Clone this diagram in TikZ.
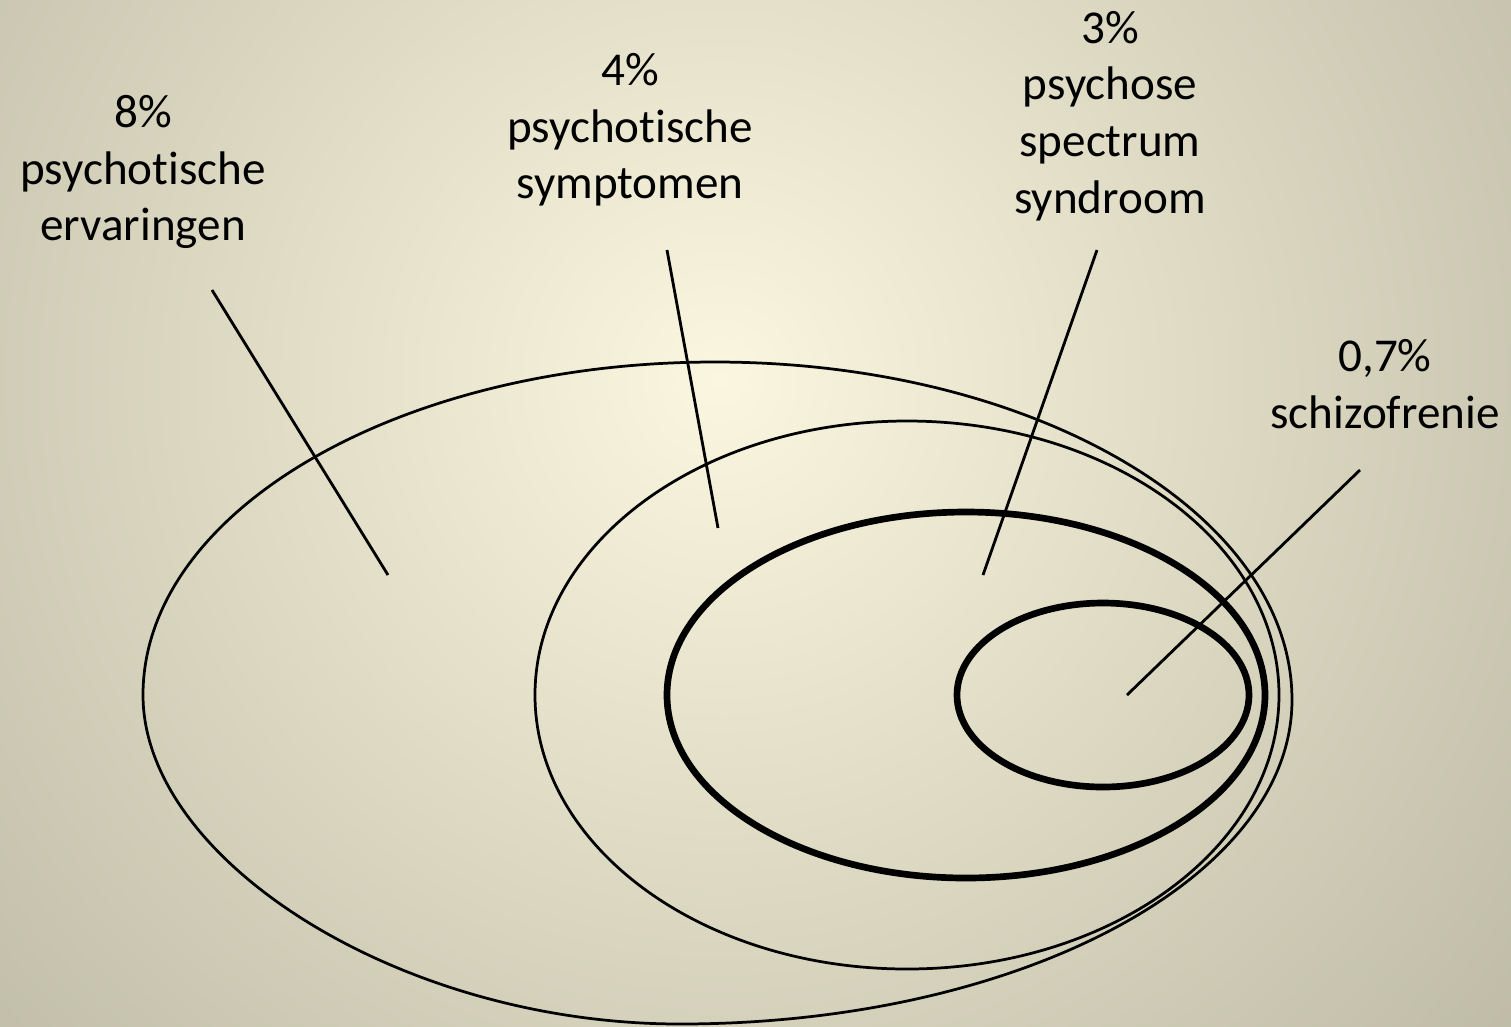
\documentclass[tikz,border=0pt]{standalone}
\usepackage{fontspec}
\setmainfont{Carlito}[Ligatures={NoCommon}]
\usepackage{xcolor}
\usepackage{tikz}

\definecolor{bgin}{HTML}{FAF6DF}
\definecolor{bgout}{HTML}{B9B6A1}

\tikzset{
  label/.style={align=center, inner sep=0pt, font=\fontsize{13.4}{16.1}\selectfont},
  thinline/.style={line width=0.78pt},
  thickline/.style={line width=1.9pt},
  pointer/.style={line width=0.8pt}
}

\begin{document}
\begin{tikzpicture}[x=0.01cm, y=-0.01cm]
        \useasboundingbox (0,0) rectangle (1511,1026);
        % background glow
        \begin{scope}
          \clip (0,0) rectangle (1511,1026);
          \shade[inner color=bgin, outer color=bgout] (720,380) circle (1120);
        \end{scope}
        % nested sets
        \draw[thinline] (143,695) .. controls (143,511) and (399,362) .. (715,362)
            .. controls (1033,362) and (1292,513) .. (1292,700)
            .. controls (1292,879) and (1018,1024) .. (680,1024)
            .. controls (400,1024) and (143,860) .. cycle;
        \draw[thinline] (907,695) ellipse [x radius=372, y radius=274];
        \draw[thickline] (966,695) ellipse [x radius=299, y radius=183];
        \draw[thickline] (1103,695) ellipse [x radius=146, y radius=92];
        % labels
        \node[label] (ervaring) at (143,172) {8\%\\psychotische\\ervaringen};
        \node[label] (symptoom) at (630,130) {4\%\\psychotische\\symptomen};
        \node[label] (syndroom) at (1110,116) {3\%\\psychose\\spectrum\\syndroom};
        \node[label] (schizo) at (1385,384) {0,7\%\\schizofrenie};
        % pointers
        \coordinate (ervaring-s) at (212,290);
        \coordinate (ervaring-e) at (388,575);
        \coordinate (symptoom-s) at (667,250);
        \coordinate (symptoom-e) at (718,528);
        \coordinate (syndroom-s) at (1097,250);
        \coordinate (syndroom-e) at (983,575);
        \coordinate (schizo-s) at (1360,470);
        \coordinate (schizo-e) at (1127,695);
        \draw[pointer] (ervaring-s) -- (ervaring-e);
        \draw[pointer] (symptoom-s) -- (symptoom-e);
        \draw[pointer] (syndroom-s) -- (syndroom-e);
        \draw[pointer] (schizo-s) -- (schizo-e);
\end{tikzpicture}
\end{document}
